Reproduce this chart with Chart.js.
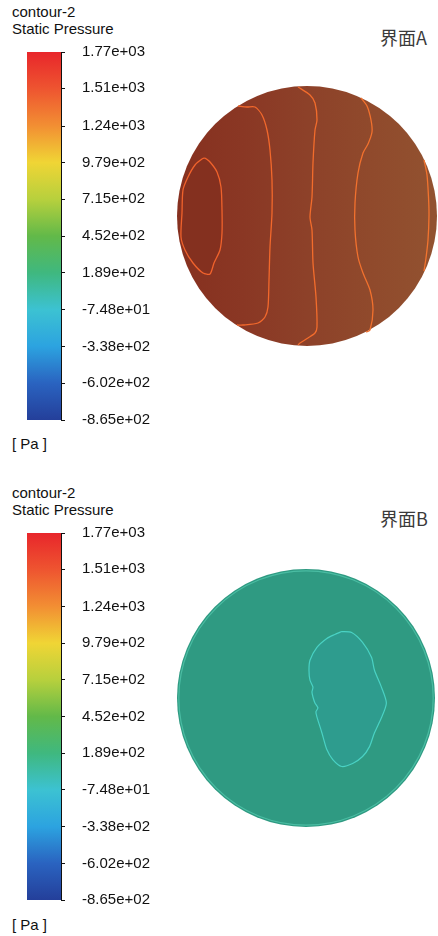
<!DOCTYPE html>
<html>
<head>
<meta charset="utf-8">
<title>Static Pressure contour</title>
<script src="https://cdn.jsdelivr.net/npm/chart.js@4.4.1/dist/chart.umd.min.js"></script>
<style>
  html, body { margin: 0; padding: 0; background: #fff; width: 438px; height: 936px; overflow: hidden; }
  canvas { position: absolute; display: block; }
  .lbl { position: absolute; font-family: "Liberation Sans", Arial, sans-serif; font-size: 15px; line-height: 15px; color: #111; white-space: nowrap; }
  .cap { position: absolute; font-family: "Noto Sans CJK SC", sans-serif; font-size: 18px; line-height: 18px; color: #3a3a3a; white-space: nowrap; }
</style>
</head>
<body>
<script>
// ---- legend (colour bar) ----
const TICK_VALUES = [1770, 1510, 1240, 979, 715, 452, 189, -74.8, -338, -602, -865];
const TICK_LABELS = ['1.77e+03', '1.51e+03', '1.24e+03', '9.79e+02', '7.15e+02', '4.52e+02',
                     '1.89e+02', '-7.48e+01', '-3.38e+02', '-6.02e+02', '-8.65e+02'];
const TICK_COLORS = ['#e8262b', '#ee5430', '#f28f33', '#f0d535', '#b7d03d', '#62b949',
                     '#3fb87f', '#3cc2d2', '#2ca3e0', '#2a63c0', '#243f9a'];
const PRESSURE_RANGE = [-865, 1770];

// ---- cross sections (mm from pipe axis) ----
const PIPE_RADIUS = 130;

// interface A: iso-pressure lines
const ISO_A1 = [[-102, 58], [-97, 54], [-90, 44], [-86, 29], [-85, 6], [-85, -17], [-87, -34],
                [-93, -47], [-97, -58], [-104, -57], [-114, -47], [-122, -34], [-126, -21],
                [-125, 3], [-124, 26], [-119, 39], [-112, 51], [-105, 57], [-102, 58]];
const ISO_A2 = [[-69, 110], [-60, 109], [-52, 109], [-45, 101], [-40, 86], [-37, 66], [-35, 36],
                [-35, 3], [-37, -31], [-38, -64], [-39, -91], [-42, -101], [-49, -107],
                [-64, -109], [-70, -109]];
const ISO_A3 = [[-9, 129], [3, 121], [8, 113], [10, 96], [8, 86], [6, 53], [5, 19], [3, -1],
                [5, -14], [6, -47], [9, -81], [10, -111], [8, -117], [1, -122], [-7, -127], [-9, -129]];
const ISO_A4 = [[54, 118], [60, 110], [64, 96], [65, 84], [61, 72], [56, 63], [51, 43], [48, 13],
                [48, -14], [51, -41], [56, -57], [63, -74], [66, -94], [63, -114], [59, -116]];
const ISO_A5 = [[117, 56], [120, 41], [121.5, 19], [122, 1], [121, -24], [119, -42], [117, -55]];

// interface B: iso-pressure loop
const ISO_B1 = [[36, 67], [46, 66], [57, 56], [66, 41], [69, 28], [76, 11], [81, -5], [76, -20],
                [69, -35], [64, -49], [57, -59], [47, -66], [36, -69], [27, -62], [21, -52],
                [16, -35], [11, -19], [10, -14], [12, -10], [9, -5], [7, 1], [6, 6], [7, 11],
                [4, 18], [3, 28], [4, 38], [11, 51], [21, 60], [29, 64], [36, 67]];

const FONT = "'Liberation Sans', Arial, sans-serif";

function addCanvas(left, top, w, h) {
  const c = document.createElement('canvas');
  c.width = w; c.height = h;
  c.style.left = left + 'px'; c.style.top = top + 'px';
  c.style.width = w + 'px'; c.style.height = h + 'px';
  document.body.appendChild(c);
  return c;
}

function addText(cls, left, top, str) {
  const d = document.createElement('div');
  d.className = cls;
  d.style.left = left + 'px'; d.style.top = top + 'px';
  d.textContent = str;
  document.body.appendChild(d);
}

// colour bar: a single floating bar spanning the pressure range
function colourBar(canvas) {
  return new Chart(canvas, {
    type: 'bar',
    data: {
      labels: [''],
      datasets: [{
        data: [PRESSURE_RANGE],
        borderWidth: 0,
        barPercentage: 1,
        categoryPercentage: 1,
        backgroundColor(ctx) {
          const chart = ctx.chart;
          const area = chart.chartArea;
          if (!area) return TICK_COLORS[0];
          const y = chart.scales.y;
          const g = chart.ctx.createLinearGradient(0, area.top, 0, area.bottom);
          TICK_VALUES.forEach((v, i) => {
            const t = (y.getPixelForValue(v) - area.top) / (area.bottom - area.top);
            g.addColorStop(Math.min(1, Math.max(0, t)), TICK_COLORS[i]);
          });
          return g;
        }
      }]
    },
    options: {
      responsive: false,
      animation: false,
      events: [],
      layout: { padding: { left: 10, right: 0, top: 12, bottom: 12 } },
      plugins: { legend: { display: false }, tooltip: { enabled: false } },
      scales: {
        x: { display: false },
        y: {
          position: 'right',
          min: PRESSURE_RANGE[0],
          max: PRESSURE_RANGE[1],
          afterBuildTicks(scale) { scale.ticks = TICK_VALUES.map(v => ({ value: v })); },
          afterFit(scale) {
            scale.width = 90;
            scale.paddingTop = 0;
            scale.paddingBottom = 0;
          },
          grid: { drawOnChartArea: false, drawTicks: true, tickLength: 4, color: '#111', lineWidth: 1 },
          border: { display: true, color: '#111', width: 1 },
          ticks: {
            padding: 17,
            color: '#111',
            font: { family: FONT, size: 15 },
            callback(value, index) { return TICK_LABELS[index]; }
          }
        }
      }
    }
  });
}

// filled pipe cross-section drawn in data units through the chart scales
const pipeDisc = {
  id: 'pipeDisc',
  beforeDatasetsDraw(chart, args, opts) {
    const { ctx, scales: { x, y } } = chart;
    const cx = x.getPixelForValue(0), cy = y.getPixelForValue(0);
    const r = x.getPixelForValue(PIPE_RADIUS) - cx;
    ctx.save();
    ctx.beginPath();
    ctx.arc(cx, cy, r, 0, Math.PI * 2);
    if (Array.isArray(opts.fill)) {
      const g = ctx.createLinearGradient(cx - r, 0, cx + r, 0);
      opts.fill.forEach((c, i) => g.addColorStop(i / (opts.fill.length - 1), c));
      ctx.fillStyle = g;
    } else {
      ctx.fillStyle = opts.fill;
    }
    ctx.fill();
    if (opts.rim) {
      ctx.beginPath();
      ctx.arc(cx, cy, r - opts.rimInset, 0, Math.PI * 2);
      ctx.strokeStyle = opts.rim;
      ctx.lineWidth = opts.rimWidth;
      ctx.stroke();
    }
    ctx.restore();
  }
};

function isoLine(points, color, width, fillColor) {
  return {
    data: points.map(([x, y]) => ({ x, y })),
    showLine: true,
    pointRadius: 0,
    borderColor: color,
    borderWidth: width,
    tension: 0.25,
    fill: fillColor ? 'shape' : false,
    backgroundColor: fillColor || 'transparent'
  };
}

function section(canvas, pad, datasets, discOpts) {
  return new Chart(canvas, {
    type: 'scatter',
    data: { datasets },
    plugins: [pipeDisc],
    options: {
      responsive: false,
      animation: false,
      events: [],
      layout: { padding: pad },
      plugins: { legend: { display: false }, tooltip: { enabled: false }, pipeDisc: discOpts },
      scales: {
        x: { display: false, min: -PIPE_RADIUS, max: PIPE_RADIUS },
        y: { display: false, min: -PIPE_RADIUS, max: PIPE_RADIUS }
      }
    }
  });
}

// ---- panel A ----
addText('lbl', 12, 4, 'contour-2');
addText('lbl', 12, 20.6, 'Static Pressure');
addText('lbl', 12, 436.3, '[ Pa ]');
addText('cap', 380, 28, '界面A');
colourBar(addCanvas(17, 40, 134, 392));
section(addCanvas(171, 80, 267, 272), { left: 6, right: 1, top: 6, bottom: 6 }, [
  isoLine(ISO_A1, '#f0622c', 1.3, '#84301f'),
  isoLine(ISO_A2, '#f2682c', 1.3),
  isoLine(ISO_A3, '#f26c2c', 1.3),
  isoLine(ISO_A4, '#f2712e', 1.3),
  isoLine(ISO_A5, '#f2742f', 1.3)
], { fill: ['#86301f', '#8a3724', '#8d4129', '#904a2c', '#925230'] });

// ---- panel B ----
addText('lbl', 12, 485, 'contour-2');
addText('lbl', 12, 501.6, 'Static Pressure');
addText('lbl', 12, 917.3, '[ Pa ]');
addText('cap', 380, 509, '界面B');
colourBar(addCanvas(17, 521, 134, 391));
section(addCanvas(171, 563, 265, 270), { left: 6, right: 1, top: 6, bottom: 6 }, [
  isoLine(ISO_B1, '#4ad2c4', 1.2, '#2e9c8e')
], { fill: '#2f9a82', rim: 'rgba(96, 216, 190, 0.55)', rimInset: 1.8, rimWidth: 1.2 });
</script>
</body>
</html>
